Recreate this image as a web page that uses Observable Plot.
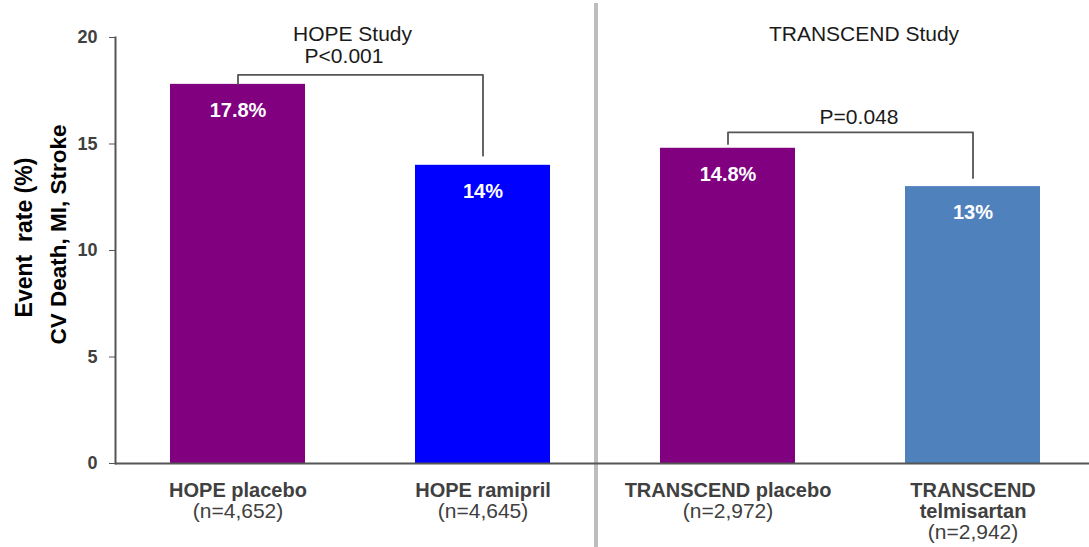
<!DOCTYPE html>
<html>
<head>
<meta charset="utf-8">
<script src="https://cdn.jsdelivr.net/npm/d3@7"></script>
<script src="https://cdn.jsdelivr.net/npm/@observablehq/plot@0.6"></script>
<style>
  body { margin: 0; background: #fff; }
</style>
</head>
<body>
<div id="chart"></div>
<script>
// Study arms, in display order
const groups = ["HOPE placebo", "HOPE ramipril", "TRANSCEND placebo", "TRANSCEND telmisartan"];
const armLabels = ["HOPE placebo", "HOPE ramipril", "TRANSCEND placebo", "TRANSCEND\ntelmisartan"];
const armCounts = ["(n=4,652)", "(n=4,645)", "(n=2,972)", "(n=2,942)"];
// Event rate (%) for CV death, MI, stroke
const rates = [17.8, 14, 14.8, 13];
const barColors = ["#800080", "#0000ff", "#800080", "#4f81bd"];
const yTicks = [0, 5, 10, 15, 20];
const yTitle = ["Event  rate (%)", "CV Death, MI, Stroke"];

// Study headings and significance brackets
const studies = ["HOPE Study", "TRANSCEND Study"];
const pValues = ["P<0.001", "P=0.048"];
const bracketFrom = ["HOPE placebo", "TRANSCEND placebo"];
const bracketTo = ["HOPE ramipril", "TRANSCEND telmisartan"];
const bracketTop = [18.25, 15.55];
const bracketFromEnd = [17.8, 15.0];
const bracketToEnd = [14.45, 13.4];

const rows = groups.map((g, i) => ({
  group: g,
  name: armLabels[i],
  n: armCounts[i],
  lines: armLabels[i].split("\n").length,
  rate: rates[i],
  color: barColors[i]
}));

const bracketPoints = bracketFrom.flatMap((from, i) => [
  {k: i, x: from, y: bracketFromEnd[i]},
  {k: i, x: from, y: bracketTop[i]},
  {k: i, x: bracketTo[i], y: bracketTop[i]},
  {k: i, x: bracketTo[i], y: bracketToEnd[i]}
]);

const textColor = "#404040";
const axisColor = "#555555";

const chart = Plot.plot({
  width: 1089,
  height: 547,
  marginTop: 37,
  marginBottom: 84,
  marginLeft: 115,
  marginRight: 0,
  style: {fontFamily: "'Liberation Sans', Arial, sans-serif", background: "#fff", overflow: "visible"},
  x: {domain: groups, range: [115, 1095], paddingInner: 0.449, paddingOuter: 0.2245, axis: null},
  y: {domain: [0, 20], axis: null},
  marks: [
    // divider between the two studies
    Plot.ruleX([groups[2]], {dx: -132, insetTop: -34, insetBottom: -84, stroke: "#bdbdbd", strokeWidth: 4}),
    Plot.barY(rows, {x: "group", y: "rate", fill: "color"}),
    Plot.axisY({
      ticks: yTicks, tickSize: 6, tickPadding: 12, fontSize: 18, fontWeight: "bold",
      color: textColor, stroke: axisColor, label: null
    }),
    Plot.frame({anchor: "left", stroke: axisColor, strokeWidth: 2}),
    Plot.ruleY([0], {stroke: axisColor, strokeWidth: 2}),
    // value labels inside the bars
    Plot.text(rows, {
      x: "group", y: "rate", text: (d) => `${d.rate}%`, dy: 26,
      fill: "white", fontSize: 20, fontWeight: "bold"
    }),
    // arm names and sample sizes under the axis
    Plot.text(rows, {
      x: "group", text: "name", frameAnchor: "bottom", lineAnchor: "top", dy: 19,
      fontSize: 20, fontWeight: "bold", lineHeight: 1.05, fill: textColor
    }),
    Plot.text(rows.filter((d) => d.lines === 1), {
      x: "group", text: "n", frameAnchor: "bottom", lineAnchor: "top", dy: 40,
      fontSize: 21, fill: textColor
    }),
    Plot.text(rows.filter((d) => d.lines === 2), {
      x: "group", text: "n", frameAnchor: "bottom", lineAnchor: "top", dy: 61,
      fontSize: 21, fill: textColor
    }),
    // significance brackets
    Plot.line(bracketPoints, {x: "x", y: "y", z: "k", stroke: axisColor, strokeWidth: 1.8}),
    Plot.text([pValues[0]], {x: [bracketFrom[0]], y: [bracketTop[0]], dx: 106, dy: -18.5, fontSize: 21, fill: "#1a1a1a"}),
    Plot.text([pValues[1]], {x: [bracketFrom[1]], y: [bracketTop[1]], dx: 131, dy: -15.5, fontSize: 21, fill: "#1a1a1a"}),
    // study headings
    Plot.text([studies[0]], {x: [groups[0]], frameAnchor: "top", dx: 114.5, dy: -11.7, fontSize: 21, fill: "#1a1a1a"}),
    Plot.text([studies[1]], {x: [groups[2]], frameAnchor: "top", dx: 136, dy: -11.7, fontSize: 21, fill: "#1a1a1a"}),
    // y-axis title, two rotated lines
    Plot.text([yTitle[0]], {
      frameAnchor: "left", textAnchor: "middle", rotate: -90, dx: -91, dy: -13,
      fontSize: 23, fontWeight: "bold", fill: "#000"
    }),
    Plot.text([yTitle[1]], {
      frameAnchor: "left", textAnchor: "middle", rotate: -90, dx: -57, dy: -16,
      fontSize: 22.5, fontWeight: "bold", fill: "#000"
    })
  ]
});

document.getElementById("chart").append(chart);
</script>
</body>
</html>
